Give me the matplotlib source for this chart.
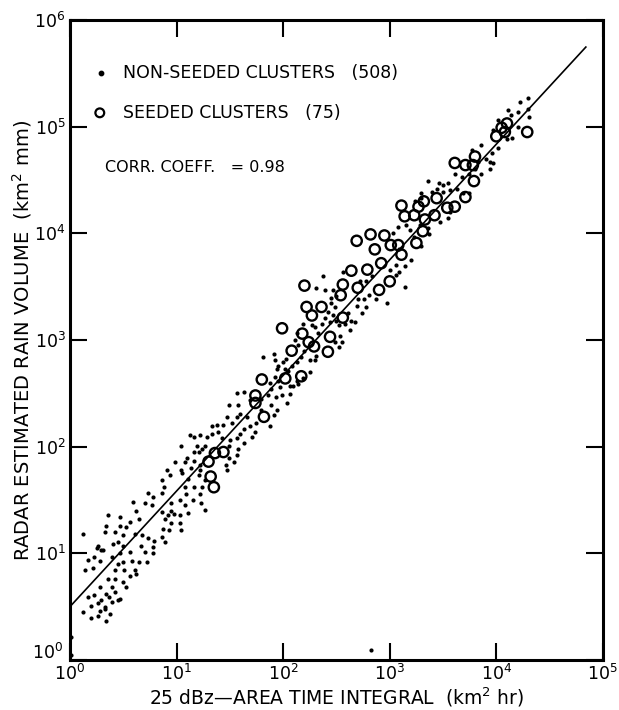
import numpy as np
import matplotlib
matplotlib.use("Agg")
import matplotlib.pyplot as plt
from matplotlib.ticker import FixedLocator, FuncFormatter, NullLocator

# log10 of area-time integral (km^2 hr) and rain volume (km^2 mm), non-seeded clusters
nonseeded_logx = [
    0.73, 0.86, 0.78, 0.59, 0.70, 0.77, 0.95, 1.03, 1.09, 1.15, 1.22, 1.23, 1.08, 0.95, 0.98,
    0.92, 1.03, 1.11, 0.89, 0.86, 0.62, 0.36, 0.47, 0.56, 0.65, 0.34, 0.47, 0.53, 0.33, 0.42,
    0.50, 0.61, 0.68, 0.73, 0.12, 0.26, 0.31, 0.40, 0.45, 0.50, 0.67, 0.79, 0.87, 0.95, 1.03,
    1.04, 0.93, 0.86, 0.89, 0.78, 0.78, 0.70, 0.72, 0.65, 0.58, 0.56, 0.47, 0.39, 0.29, 0.25,
    0.17, 0.23, 0.28, 0.14, 0.22, 0.45, 0.50, 0.42, 0.51, 0.61, 0.62, 0.56, 0.36, 0.28, 0.42,
    0.50, 0.53, 0.39, 0.17, 0.23, 0.34, 0.42, 0.47, 0.45, 0.39, 0.20, 0.26, 0.33, 0.29, 0.12,
    0.20, 0.26, 0.34, 0.38, 0.33, 0.37, 0.28, 0.01, 0.01,
    1.57, 1.63, 1.69, 1.86, 1.93, 1.99, 2.04, 1.89, 1.94, 1.49, 1.58, 1.60, 1.57, 1.47, 1.52,
    1.44, 1.38, 1.33, 1.66, 1.75, 1.69, 1.63, 1.74, 1.71, 1.88, 1.91, 1.79, 1.13, 1.16, 1.22,
    1.29, 1.33, 1.39, 1.43, 1.50, 1.57, 1.60, 1.63, 1.58, 1.49, 1.04, 1.19, 1.21, 1.27, 1.16,
    1.24, 1.10, 1.16, 1.08, 0.99, 0.91, 1.04, 1.05, 1.14, 1.22, 1.46, 1.49, 1.57, 1.54, 1.47,
    1.22, 1.21, 1.27, 1.24, 0.94, 0.86, 0.88, 1.08, 1.16, 1.27, 1.11, 1.79,
    2.45, 2.49, 2.42, 2.47, 2.50, 2.44, 2.39, 2.61, 2.74, 2.69, 2.64, 2.67, 2.58, 2.52, 2.63,
    2.53, 2.49, 2.55, 2.52, 2.36, 2.30, 2.33, 2.19, 2.27, 2.11, 2.13, 2.14, 2.20, 2.17, 2.13,
    2.08, 2.25, 2.30, 2.31, 2.25, 2.14, 2.05, 2.00, 2.03, 1.95, 1.94, 2.02, 1.91, 1.92, 1.81,
    2.09, 2.13, 2.19, 1.92, 1.95, 1.88, 1.89, 1.97, 2.06, 2.06,
    3.08, 3.15, 3.03, 3.19, 3.23, 3.28, 3.36, 3.37, 3.29, 3.20, 3.14, 3.09, 3.06, 3.14, 2.97,
    2.87, 2.78, 2.81, 2.76, 2.70, 2.72, 2.56, 2.37, 2.31, 2.39, 2.47, 2.50, 2.45, 3.00, 3.06,
    2.83, 2.78, 3.09,
    3.86, 3.77, 3.83, 3.90, 3.94, 3.97, 3.94, 3.86, 3.80, 3.74, 3.68, 3.61, 3.55, 3.50, 3.46,
    3.36, 3.40, 3.44, 3.50, 3.57, 3.63, 3.69, 3.74, 3.57, 3.55, 3.47, 3.29, 3.29, 3.24, 4.15,
    4.10, 4.02, 3.96,
    4.30, 4.22, 4.11, 4.02, 4.20, 4.30, 4.31, 4.14, 4.20, 3.97,
    2.82,
]
nonseeded_logy = [
    1.57, 1.57, 1.53, 1.48, 1.47, 1.45, 1.47, 1.50, 1.56, 1.50, 1.56, 1.47, 1.45, 1.40, 1.37,
    1.36, 1.36, 1.38, 1.32, 1.39, 1.40, 1.36, 1.34, 1.29, 1.32, 1.26, 1.26, 1.25, 1.20, 1.20,
    1.17, 1.18, 1.17, 1.14, 1.18, 1.07, 1.03, 1.09, 1.11, 1.07, 1.07, 1.12, 1.23, 1.28, 1.28,
    1.22, 1.22, 1.15, 1.11, 1.06, 1.00, 1.01, 0.92, 0.92, 0.93, 1.01, 1.00, 0.97, 1.03, 1.05,
    0.94, 0.97, 0.93, 0.84, 0.86, 0.90, 0.92, 0.84, 0.84, 0.84, 0.81, 0.79, 0.76, 0.68, 0.76,
    0.73, 0.68, 0.68, 0.59, 0.61, 0.62, 0.64, 0.57, 0.56, 0.54, 0.51, 0.53, 0.50, 0.56, 0.45,
    0.39, 0.41, 0.37, 0.43, 0.48, 0.59, 0.46, 0.22, 0.05,
    2.50, 2.51, 2.44, 2.48, 2.47, 2.48, 2.41, 2.39, 2.34, 2.39, 2.39, 2.31, 2.28, 2.28, 2.22,
    2.20, 2.20, 2.19, 2.28, 2.22, 2.19, 2.17, 2.14, 2.09, 2.19, 2.30, 2.34, 2.11, 2.09, 2.11,
    2.09, 2.12, 2.14, 2.08, 2.06, 2.08, 2.12, 2.03, 1.98, 2.01, 2.01, 2.01, 1.95, 2.01, 1.95,
    1.98, 1.89, 1.87, 1.86, 1.86, 1.78, 1.78, 1.75, 1.80, 1.78, 1.83, 1.89, 1.92, 1.86, 1.78,
    1.83, 1.73, 1.69, 1.62, 1.73, 1.69, 1.62, 1.62, 1.62, 1.41, 1.70, 2.45,
    3.35, 3.31, 3.26, 3.23, 3.18, 3.17, 3.21, 3.25, 3.25, 3.32, 3.18, 3.17, 3.15, 3.14, 3.09,
    3.04, 2.98, 2.98, 2.93, 3.15, 3.12, 3.07, 3.15, 3.14, 3.00, 3.07, 2.95, 2.90, 2.84, 2.79,
    2.76, 2.81, 2.81, 2.85, 2.70, 2.59, 2.71, 2.79, 2.82, 2.76, 2.73, 2.73, 2.87, 2.81, 2.84,
    2.57, 2.62, 2.64, 2.65, 2.62, 2.60, 2.54, 2.56, 2.57, 2.49,
    4.06, 4.08, 4.00, 4.03, 3.97, 4.08, 4.05, 3.99, 3.88, 3.75, 3.69, 3.64, 3.61, 3.50, 3.35,
    3.38, 3.31, 3.42, 3.38, 3.38, 3.55, 3.64, 3.60, 3.49, 3.47, 3.47, 3.41, 3.39, 3.66, 3.70,
    3.60, 3.55, 3.85,
    4.83, 4.78, 4.67, 4.70, 4.67, 4.66, 4.60, 4.56, 4.60, 4.56, 4.53, 4.56, 4.47, 4.45, 4.47,
    4.49, 4.39, 4.42, 4.39, 4.41, 4.42, 4.38, 4.38, 4.20, 4.14, 4.11, 4.38, 4.33, 4.30, 4.89,
    4.88, 4.80, 4.75,
    5.27, 5.23, 5.16, 5.06, 5.14, 5.17, 5.09, 5.11, 5.00, 4.97,
    0.09,
]

# seeded clusters
seeded_logx = [
    1.74, 1.82, 1.30, 1.36, 1.44, 1.32, 1.35, 1.74,
    2.22, 2.36, 2.27, 1.99, 2.18, 2.24, 2.29, 2.44, 2.42, 2.08, 2.17, 2.02, 1.80, 2.56,
    3.14, 3.23, 3.33, 3.42, 3.31, 3.25, 2.95, 2.82, 2.69, 3.01, 3.08, 3.11, 2.86, 2.92,
    3.00, 2.90, 2.79, 2.64, 2.56, 2.54, 2.70, 2.20,
    4.00, 4.08, 3.61, 3.71, 3.78, 3.80, 3.79, 3.71, 3.61, 3.54, 3.44, 3.32, 3.27, 3.11,
    4.10, 4.05, 4.29,
]
seeded_logy = [
    2.48, 2.28, 1.86, 1.94, 1.95, 1.72, 1.62, 2.41,
    3.31, 3.31, 3.23, 3.11, 3.06, 2.98, 2.94, 3.03, 2.89, 2.90, 2.66, 2.64, 2.63, 3.21,
    4.16, 4.17, 4.13, 4.17, 4.02, 3.91, 3.98, 3.99, 3.93, 3.89, 3.89, 3.80, 3.85, 3.72,
    3.55, 3.47, 3.66, 3.65, 3.52, 3.42, 3.49, 3.51,
    4.91, 4.95, 4.66, 4.64, 4.64, 4.72, 4.49, 4.34, 4.25, 4.24, 4.33, 4.30, 4.25, 4.26,
    5.03, 4.99, 4.95,
]

# fitted relation: log10(V) = a + b log10(ATI)
fit_a = 0.50
fit_b = 1.084
fit_xrange = [1.0, 10 ** 4.84]

# decade ticks
x_decades = [0, 1, 2, 3, 4, 5]
y_decades = [0, 1, 2, 3, 4, 5, 6]

x_ns = 10 ** np.array(nonseeded_logx)
y_ns = 10 ** np.array(nonseeded_logy)
x_s = 10 ** np.array(seeded_logx)
y_s = 10 ** np.array(seeded_logy)

plt.rcParams['font.family'] = ['DejaVu Sans']
plt.rcParams['mathtext.fontset'] = 'dejavusans'

fig = plt.figure(figsize=(6.19, 7.10), dpi=100)
ax = fig.add_axes([0.113, 0.0704, 0.861, 0.9014])
ax.set_xscale('log')
ax.set_yscale('log')
ax.set_xlim(1, 1e5)
ax.set_ylim(1, 1e6)

ax.scatter(x_ns, y_ns, s=9, color='black', linewidths=0, zorder=3)
ax.scatter(x_s, y_s, s=55, facecolors='none', edgecolors='black', linewidths=1.7, zorder=4)

fx = np.logspace(np.log10(fit_xrange[0]), np.log10(fit_xrange[1]), 50)
ax.plot(fx, 10 ** (fit_a + fit_b * np.log10(fx)), color='black', lw=1.2, zorder=5)


def decade_label(v, pos):
    return r'$10^{%d}$' % round(np.log10(v))


def ydecade_label(v, pos):
    # the lowest y label is placed separately, just above the x-axis "10^0"
    if round(np.log10(v)) == y_decades[0]:
        return ''
    return decade_label(v, pos)


ax.xaxis.set_major_locator(FixedLocator([10.0 ** d for d in x_decades]))
ax.yaxis.set_major_locator(FixedLocator([10.0 ** d for d in y_decades]))
ax.xaxis.set_minor_locator(NullLocator())
ax.yaxis.set_minor_locator(NullLocator())
ax.xaxis.set_major_formatter(FuncFormatter(decade_label))
ax.yaxis.set_major_formatter(FuncFormatter(ydecade_label))
ax.tick_params(which='major', direction='in', length=12, width=1.5,
               top=True, right=True, labelsize=12.5, pad=3, colors='black')
for sp in ax.spines.values():
    sp.set_linewidth(2.2)

ax.annotate(r'$10^{%d}$' % y_decades[0], xy=(0, 0), xycoords='axes fraction',
            xytext=(-5, 5), textcoords='offset points', ha='right', va='center',
            fontsize=12.5)

ax.set_xlabel('25 dBz\u2014AREA TIME INTEGRAL  (km$^2$ hr)', fontsize=13.5, labelpad=1)
ax.set_ylabel('RADAR ESTIMATED RAIN VOLUME  (km$^2$ mm)', fontsize=14, labelpad=0)

# legend-style annotations
ax.scatter([0.058], [0.917], s=10, color='black', transform=ax.transAxes, clip_on=False)
ax.text(0.099, 0.917, 'NON-SEEDED CLUSTERS   (508)', transform=ax.transAxes,
        fontsize=12.5, va='center', ha='left')
ax.scatter([0.056], [0.855], s=40, facecolors='none', edgecolors='black', linewidths=1.6,
           transform=ax.transAxes, clip_on=False)
ax.text(0.099, 0.855, 'SEEDED CLUSTERS   (75)', transform=ax.transAxes,
        fontsize=12.5, va='center', ha='left')
ax.text(0.066, 0.770, 'CORR. COEFF.   = 0.98', transform=ax.transAxes,
        fontsize=11.5, va='center', ha='left')

fig.savefig('out.png', dpi=100, facecolor='white')
